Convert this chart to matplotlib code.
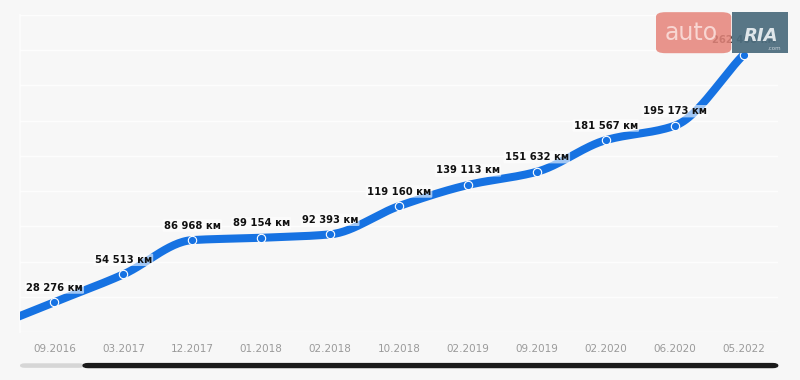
import numpy as np
import matplotlib
matplotlib.use("Agg")
import matplotlib.pyplot as plt
from matplotlib.patches import FancyBboxPatch, Rectangle

# mileage history
dates = ["09.2016", "03.2017", "12.2017", "01.2018", "02.2018", "10.2018",
         "02.2019", "09.2019", "02.2020", "06.2020", "05.2022"]
mileage = [28276, 54513, 86968, 89154, 92393, 119160,
           139113, 151632, 181567, 195173, 262400]
labels = ["28 276 км", "54 513 км", "86 968 км", "89 154 км", "92 393 км", "119 160 км",
          "139 113 км", "151 632 км", "181 567 км", "195 173 км", "262 400 км"]

BG = "#f7f7f7"
BLUE = "#1672e2"


def monotone_spline(x, y, n=30):
    # Fritsch-Carlson monotone cubic, sampled between points
    x = np.asarray(x, float)
    y = np.asarray(y, float)
    h = np.diff(x)
    d = np.diff(y) / h
    m = np.zeros_like(y)
    m[0], m[-1] = d[0], d[-1]
    for i in range(1, len(y) - 1):
        if d[i - 1] * d[i] <= 0:
            m[i] = 0
        else:
            w1 = 2 * h[i] + h[i - 1]
            w2 = h[i] + 2 * h[i - 1]
            m[i] = (w1 + w2) / (w1 / d[i - 1] + w2 / d[i])
    xs, ys = [], []
    for i in range(len(x) - 1):
        t = np.linspace(0, 1, n, endpoint=False)
        h00 = 2 * t**3 - 3 * t**2 + 1
        h10 = t**3 - 2 * t**2 + t
        h01 = -2 * t**3 + 3 * t**2
        h11 = t**3 - t**2
        xs.append(x[i] + t * h[i])
        ys.append(h00 * y[i] + h10 * h[i] * m[i] + h01 * y[i + 1] + h11 * h[i] * m[i + 1])
    xs.append([x[-1]])
    ys.append([y[-1]])
    return np.concatenate(xs), np.concatenate(ys), m


idx = np.arange(len(dates))
sx, sy, slopes = monotone_spline(idx, mileage)
# line runs in from the left edge along the first slope
lead_x = -0.6
sx = np.concatenate([[lead_x], sx])
sy = np.concatenate([[mileage[0] + slopes[0] * lead_x], sy])

fig = plt.figure(figsize=(8, 3.8), dpi=100, facecolor=BG)
ax = fig.add_axes([0.025, 0.1263, 0.9475, 0.8342])
ax.set_facecolor(BG)

ax.set_xlim(-0.5, len(dates) - 0.5)
ax.set_ylim(0, 300000)
ax.set_yticks(np.linspace(0, 300000, 10))
ax.grid(axis="y", color="#fdfdfd", linewidth=1.0)
ax.set_axisbelow(True)
for s in ["top", "right", "bottom"]:
    ax.spines[s].set_visible(False)
ax.spines["left"].set_color("#fdfdfd")
ax.spines["left"].set_linewidth(1.2)
ax.tick_params(axis="y", left=False, labelleft=False)
ax.tick_params(axis="x", bottom=False, pad=5)
ax.set_xticks(idx)
ax.set_xticklabels(dates, color="#9a9a9a", fontsize=7.5)

ax.plot(sx, sy, color=BLUE, linewidth=5.8, solid_capstyle="butt", zorder=3)
ax.plot(idx, mileage, "o", markersize=6, markerfacecolor=BLUE,
        markeredgecolor="white", markeredgewidth=0.8, zorder=4)

for i, (v, lab) in enumerate(zip(mileage, labels)):
    ax.annotate(lab, (i, v), xytext=(0, 10.5), textcoords="offset points",
                ha="center", va="center", fontsize=7.2, fontweight="bold",
                color="#111111", zorder=5,
                bbox=dict(boxstyle="round,pad=0.12", facecolor="white",
                          edgecolor="none", alpha=0.6))

# scroll bar under the chart
fig.patches.append(FancyBboxPatch((0.025, 0.032), 0.08, 0.012,
                                  boxstyle="round,pad=0,rounding_size=0.006",
                                  transform=fig.transFigure, facecolor="#d6d6d6",
                                  edgecolor="none"))
fig.patches.append(FancyBboxPatch((0.103, 0.031), 0.87, 0.014,
                                  boxstyle="round,pad=0,rounding_size=0.007",
                                  transform=fig.transFigure, facecolor="#1b1b1b",
                                  edgecolor="none"))

# watermark
fig.patches.append(FancyBboxPatch((0.82, 0.86), 0.094, 0.108,
                                  boxstyle="round,pad=0,rounding_size=0.012",
                                  transform=fig.transFigure, facecolor="#e6877d",
                                  edgecolor="none", alpha=0.88, zorder=10))
fig.patches.append(Rectangle((0.915, 0.86), 0.07, 0.108,
                             transform=fig.transFigure, facecolor="#4f6f80",
                             edgecolor="none", alpha=0.95, zorder=10))
fig.text(0.864, 0.912, "auto", color="#f8d6d2", fontsize=17, ha="center",
         va="center", zorder=11)
fig.text(0.951, 0.905, "RIA", color="#dfe6ea", fontsize=13, fontweight="bold",
         ha="center", va="center", fontstyle="italic", zorder=11)
fig.text(0.968, 0.872, ".com", color="#c9d3d9", fontsize=4, ha="center",
         va="center", zorder=11)

fig.savefig("out.png", dpi=100, facecolor=BG)
